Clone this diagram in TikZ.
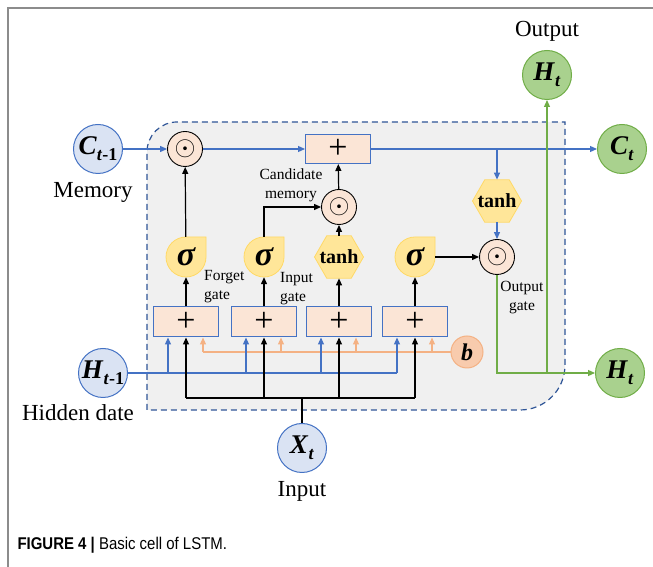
\documentclass[tikz,border=0pt]{standalone}
\usepackage{fontspec}
\setmainfont{Liberation Serif}
\newfontfamily\pie[FakeStretch=0.88]{Liberation Sans}
\usepackage{graphicx}
\usepackage{tikz}
\usetikzlibrary{positioning,arrows.meta,shapes.geometric,backgrounds}
\definecolor{cazul}{HTML}{4472C4}
\definecolor{cazulo}{HTML}{2F5597}
\definecolor{cceleste}{HTML}{DAE3F3}
\definecolor{cverde}{HTML}{70AD47}
\definecolor{cverdec}{HTML}{A9D18E}
\definecolor{cnaranja}{HTML}{F4B183}
\definecolor{cnaranjac}{HTML}{F8CBAD}
\definecolor{cmelocoton}{HTML}{FBE5D6}
\definecolor{camarillo}{HTML}{FFE699}
\definecolor{camarillob}{HTML}{FFD966}
\definecolor{cgris}{HTML}{8C8C8C}
\newcommand{\vari}[2]{\textbf{\textit{#1}}\raisebox{-6pt}{\fontsize{18}{18}\selectfont\textbf{#2}}}
\tikzset{
  marco/.style={draw=cgris, line width=1.5pt},
  celda/.style={draw=cazulo, fill=black!6, line width=1.2pt, dash pattern=on 6pt off 4pt},
  circa/.style={circle, draw=cazul, fill=cceleste, line width=1pt, minimum size=49pt,
    inner sep=0pt, font=\fontsize{27}{27}\selectfont},
  circv/.style={circle, draw=cverde, fill=cverdec, line width=1pt, minimum size=49pt,
    inner sep=0pt, font=\fontsize{27}{27}\selectfont},
  mult/.style={circle, draw=black, fill=cmelocoton, line width=0.9pt, minimum size=35pt, inner sep=0pt},
  suma/.style={rectangle, draw=cazul, fill=cmelocoton, line width=1pt, minimum width=65pt,
    minimum height=29pt, inner sep=0pt, font=\fontsize{34}{34}\selectfont},
  sig/.style={circle, minimum size=40pt, inner sep=0pt, font=\fontsize{34}{34}\selectfont\bfseries\itshape},
  gota/.style={fill=camarillo, draw=camarillob, line width=0.8pt},
  hexa/.style={circle, minimum size=42.4pt, inner sep=0pt, font=\fontsize{20}{20}\selectfont\bfseries},
  linea/.style={line width=1.2pt},
  flecha/.style={-{Triangle[length=7pt,width=6pt]}, line width=1.2pt},
  etq/.style={font=\fontsize{15.5}{19}\selectfont, align=left, inner sep=0pt},
  grande/.style={font=\fontsize{23}{23}\selectfont},
}
\begin{document}
\begin{tikzpicture}[x=1pt,y=1pt]
  \useasboundingbox (0,0) rectangle (653,567);
  \draw[marco] (653,559) -- (8,559) -- (8,0);
  % celda LSTM
  \draw[celda] (147,157) -- (147,415) arc[start angle=180,end angle=90,radius=30]
    -- (565,445) -- (565,202) arc[start angle=0,end angle=-90,radius=45] -- cycle;

  % entradas y salidas
  \node[circa] (ct1) at (98,418) {\vari{C}{\textit{t}-1}};
  \node[grande, below=5pt of ct1, xshift=-5pt] {Memory};
  \node[circa] (ht1) at (103,194) {\vari{H}{\textit{t}-1}};
  \node[grande, below=3pt of ht1, xshift=-25pt] {Hidden date};
  \node[circa] (xt) at (302,119) {\vari{X}{\textit{t}}};
  \node[grande, below=5pt of xt] {Input};
  \node[circv] (ct) at (622,418) {\vari{C}{\textit{t}}};
  \node[circv] (hto) at (547,492) {\vari{H}{\textit{t}}};
  \node[grande, above=5pt of hto] {Output};
  \node[circv] (htr) at (620,194) {\vari{H}{\textit{t}}};
  \node[circle, draw=cnaranja, fill=cnaranjac, line width=1pt, minimum size=32pt, inner sep=0pt,
    font=\fontsize{24}{24}\selectfont] (b) at (467,215) {\textbf{\textit{b}}};

  % operaciones
  \node[mult] (mf) at (185,418) {\scalebox{2.7}{$\odot$}};
  \node[suma] (sumc) at (338,418) {+};
  \node[mult] (mc) at (339,360) {\scalebox{2.7}{$\odot$}};
  \node[mult] (mo) at (497,310) {\scalebox{2.7}{$\odot$}};
  \foreach \nom/\x in {sf/186,si/264,so/415}{
    \draw[gota] (\x+20,330) -- (\x+20,310) arc[start angle=0,end angle=-270,radius=20] -- cycle;
    \node[sig] (\nom) at (\x,310) {σ};
  }
  \foreach \nom/\x/\y in {tm/339/310,tanhc/497/366}{
    \draw[gota] (\x-24.5,\y) -- (\x-12.25,\y+21.2) -- (\x+12.25,\y+21.2) -- (\x+24.5,\y)
      -- (\x+12.25,\y-21.2) -- (\x-12.25,\y-21.2) -- cycle;
    \node[hexa] (\nom) at (\x,\y) {tanh};
  }
  \foreach \nom/\x in {s1/186,s2/264,s3/339,s4/415}
    \node[suma, minimum height=30pt] (\nom) at (\x,245) {+};

  % etiquetas
  \node[etq, align=center] at (291,382) {Candidate\\memory};
  \node[etq, anchor=west] at (204,280) {Forget\\gate};
  \node[etq, anchor=west] at (280,278) {Input\\gate};
  \node[etq, align=center] at (522,269) {Output\\gate};

  % conexiones
  \draw[flecha, cazul] (ct1) -- (mf);
  \draw[flecha, cazul] (mf) -- (sumc);
  \draw[flecha, cazul] (sumc) -- (ct);
  \draw[flecha, cazul] (tanhc |- ct) -- (tanhc);
  \draw[flecha, cazul] (tanhc) -- (mo);
  \draw[flecha] (so) -- (mo);
  \draw[flecha] (sf) -- (mf);
  \draw[flecha] (si.north) |- (mc);
  \draw[flecha] (tm) -- (mc);
  \draw[flecha] (mc) -- (sumc);
  \draw[flecha, cverde] (mo) |- (htr);
  \draw[flecha, cverde] (hto |- htr) -- (hto);
  \foreach \s/\g in {s1/sf,s2/si,s3/tm,s4/so} \draw[flecha] (\s) -- (\g);

  \draw[linea, cazul] (ht1) -- ([xshift=-18pt]s4.south |- ht1);
  \draw[linea, cnaranja] (b) -- ([xshift=17pt]s1.south |- b);
  \coordinate (bus) at (302,169);
  \draw[linea] (xt) -- (bus);
  \draw[linea] (s1.south |- bus) -- (s4.south |- bus);
  \foreach \s in {s1,s2,s3,s4}{
    \draw[flecha, cazul] ([xshift=-18pt]\s.south |- ht1) -- ([xshift=-18pt]\s.south);
    \draw[flecha, cnaranja] ([xshift=17pt]\s.south |- b) -- ([xshift=17pt]\s.south);
    \draw[flecha] (\s.south |- bus) -- (\s.south);
  }

  \node[anchor=west, font=\pie\fontsize{17}{17}\selectfont] at (14,22)
    {\textbf{FIGURE 4 |} Basic cell of LSTM.};
\end{tikzpicture}
\end{document}
